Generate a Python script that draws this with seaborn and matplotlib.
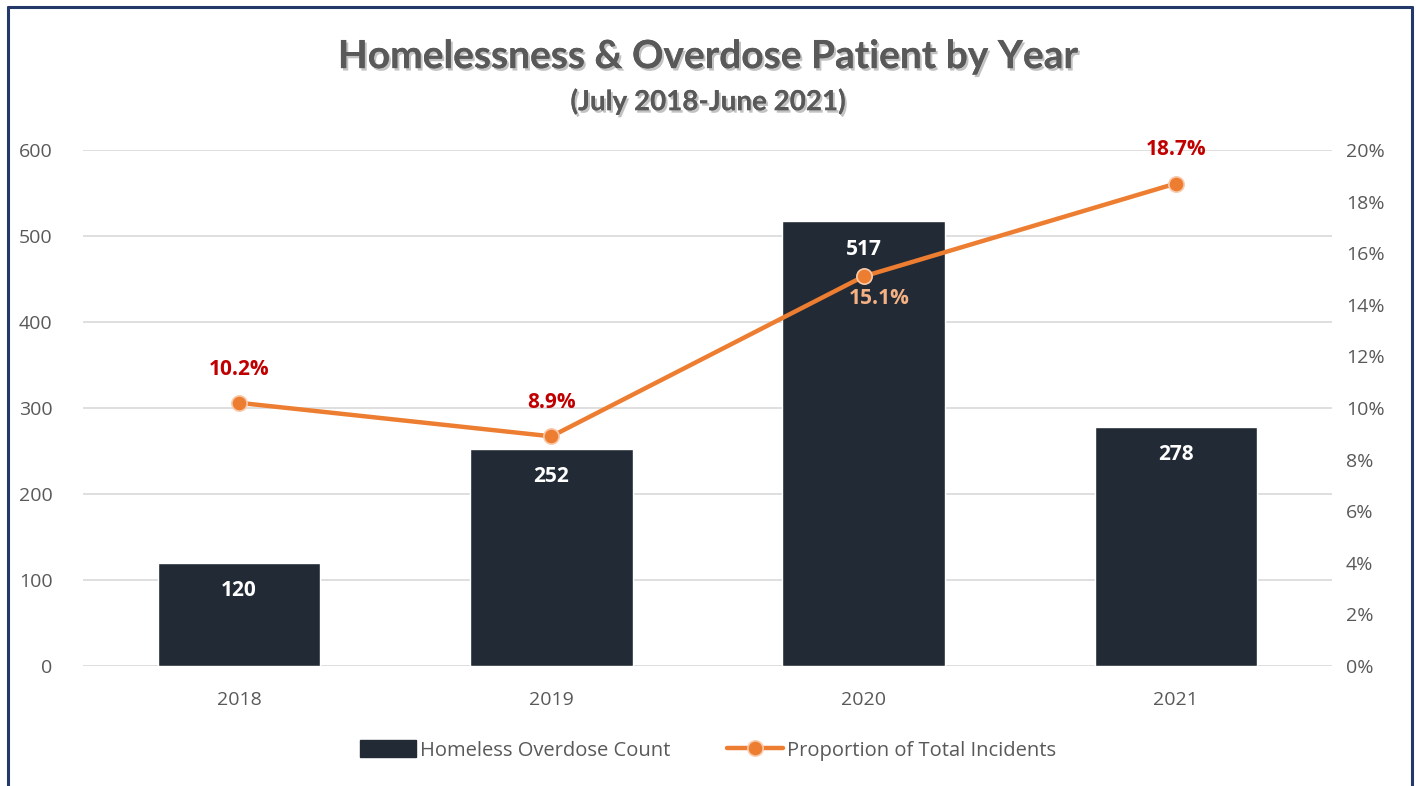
import matplotlib
matplotlib.use("Agg")
import matplotlib.pyplot as plt
import matplotlib.patheffects as pe
from matplotlib.lines import Line2D
from matplotlib.patches import Patch
from matplotlib.transforms import offset_copy
import seaborn as sns
import pandas as pd

# Data
years = ["2018", "2019", "2020", "2021"]
overdose_counts = [120, 252, 517, 278]
proportion_pct = [10.2, 8.9, 15.1, 18.7]
count_ticks = [0, 100, 200, 300, 400, 500, 600]
pct_ticks = [0, 2, 4, 6, 8, 10, 12, 14, 16, 18, 20]

BAR_COLOR = "#222a35"
LINE_COLOR = "#ed7d31"
LABEL_RED = "#c00000"
LABEL_LIGHT = "#f4b183"
TEXT_GREY = "#595959"
GRID_GREY = "#d9d9d9"
FRAME_BLUE = "#23396a"

sns.set_theme(style="white")
plt.rcParams["font.family"] = ["Open Sans", "DejaVu Sans"]

df = pd.DataFrame({"year": years, "count": overdose_counts, "pct": proportion_pct})
df["pos"] = range(len(years))

fig = plt.figure(figsize=(14.16, 7.86), dpi=100)
ax = fig.add_axes([0.0586, 0.1527, 0.8821, 0.6565])

sns.barplot(data=df, x="year", y="count", color=BAR_COLOR, width=0.52,
            saturation=1, ax=ax, zorder=2)
ax.set_ylim(0, 600)
ax.set_xlim(-0.5, len(years) - 0.5)
ax.set_yticks(count_ticks)
ax.set_yticklabels([str(t) for t in count_ticks])
ax.yaxis.grid(True, color=GRID_GREY, linewidth=1.2, zorder=0)
ax.set_axisbelow(True)
ax.set_xlabel("")
ax.set_ylabel("")
for s in ax.spines.values():
    s.set_visible(False)
ax.tick_params(axis="both", length=0, labelsize=14, colors=TEXT_GREY)
ax.tick_params(axis="y", pad=22)
ax.tick_params(axis="x", pad=18)

# Value labels inside the bars
for i, v in enumerate(overdose_counts):
    ax.text(i, v - 20, str(v), ha="center", va="top", color="white",
            fontsize=15, fontweight="bold", zorder=5)

# Proportion line on the secondary axis
ax2 = ax.twinx()
sns.lineplot(data=df, x="pos", y="pct", ax=ax2, color=LINE_COLOR, linewidth=3.2,
             marker="o", markersize=11, markeredgecolor="#f8cbad",
             markeredgewidth=1.2, zorder=4)
ax2.set_ylim(0, 20)
ax2.set_xlim(-0.5, len(years) - 0.5)
ax2.set_yticks(pct_ticks)
ax2.set_yticklabels([f"{t}%" for t in pct_ticks])
ax2.set_ylabel("")
ax2.set_xlabel("")
for s in ax2.spines.values():
    s.set_visible(False)
ax2.tick_params(axis="y", length=0, labelsize=14, colors=TEXT_GREY, pad=10)

for i, p in enumerate(proportion_pct):
    if years[i] == "2020":
        # below and slightly to the right of the point
        tr = offset_copy(ax2.transData, fig=fig, x=16, y=-22, units="dots")
        ax2.text(i, p, f"{p}%", ha="center", va="center", color=LABEL_LIGHT,
                 fontsize=15, fontweight="bold", zorder=6, transform=tr)
    else:
        ax2.text(i, p + 1.3, f"{p}%", ha="center", va="center", color=LABEL_RED,
                 fontsize=15, fontweight="bold", zorder=6)

# Titles with soft drop shadow
shadow = [pe.withSimplePatchShadow(offset=(1.5, -1.8), shadow_rgbFace="#9a9a9a", alpha=0.6),
          pe.Normal()]
fig.text(0.5, 0.928, "Homelessness & Overdose Patient by Year", ha="center", va="center",
         fontsize=28, fontweight="bold", color=TEXT_GREY, family=["Lato", "DejaVu Sans"],
         path_effects=shadow)
fig.text(0.5, 0.871, "(July 2018-June 2021)", ha="center", va="center",
         fontsize=20, fontweight="bold", color=TEXT_GREY, family=["Lato", "DejaVu Sans"],
         path_effects=shadow)

# Legend
handles = [
    Patch(facecolor=BAR_COLOR, edgecolor=BAR_COLOR),
    Line2D([0], [0], color=LINE_COLOR, linewidth=3.2, marker="o", markersize=11,
           markeredgecolor="#f8cbad", markeredgewidth=1.2),
]
fig.legend(handles, ["Homeless Overdose Count", "Proportion of Total Incidents"],
           loc="center", bbox_to_anchor=(0.5, 0.045), ncol=2, frameon=False,
           fontsize=14.5, labelcolor=TEXT_GREY, handlelength=2.8, handleheight=0.9,
           handletextpad=0.2, columnspacing=2.8)

# Frame around the chart
frame_kw = dict(color=FRAME_BLUE, linewidth=2.2, transform=fig.transFigure)
x0, x1 = 7.5 / 1416, 1411.5 / 1416
ytop = 1 - 6.5 / 786
fig.add_artist(Line2D([x0, x0], [0, ytop], **frame_kw))
fig.add_artist(Line2D([x1, x1], [0, ytop], **frame_kw))
fig.add_artist(Line2D([x0, x1], [ytop, ytop], **frame_kw))

fig.savefig("out.png", dpi=100)
